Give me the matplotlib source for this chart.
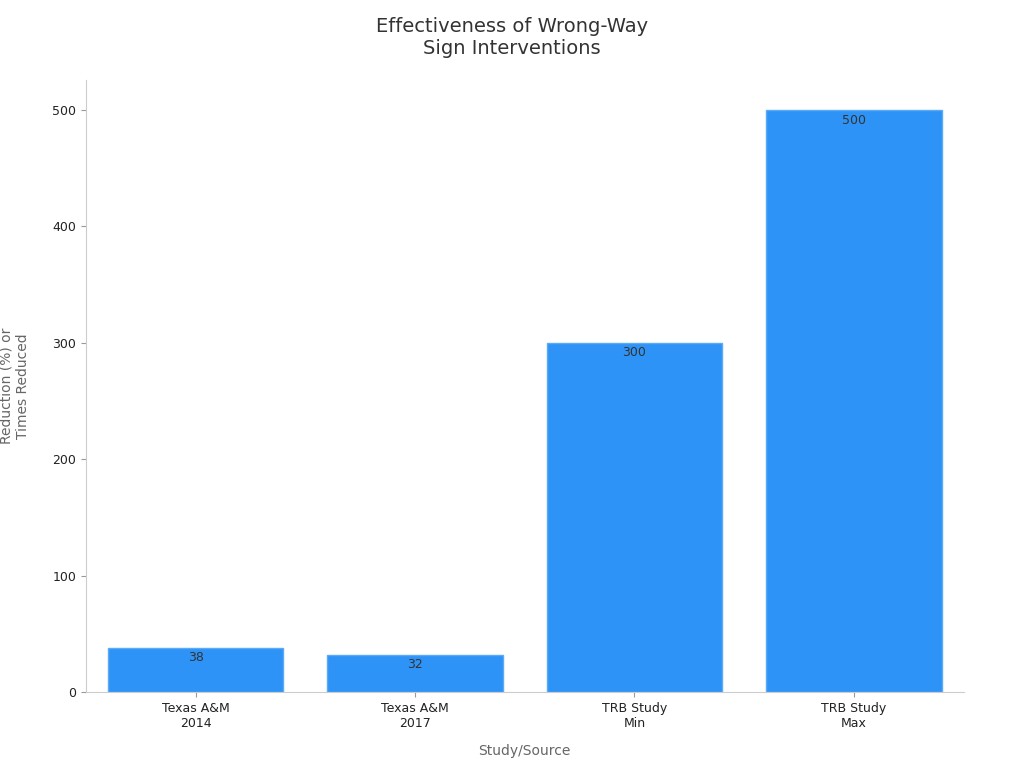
import matplotlib
matplotlib.use("Agg")
import matplotlib.pyplot as plt

categories = ["Texas A&M\n2014", "Texas A&M\n2017", "TRB Study\nMin", "TRB Study\nMax"]
values = [38, 32, 300, 500]
yticks = [0, 100, 200, 300, 400, 500]

fig = plt.figure(figsize=(10.24, 7.68), dpi=100)
ax = fig.add_axes([0.084, 0.099, 0.857, 0.797])
x = range(len(categories))
bars = ax.bar(x, values, width=0.8, color="#2e93f7", edgecolor="#5aaaf8", linewidth=1)
for xi, v in zip(x, values):
    ax.text(xi, v - 3, str(v), ha="center", va="top", fontsize=9, color="#333333")
ax.set_xticks(list(x))
ax.set_xticklabels(categories, fontsize=9, color="#222222")
ax.set_yticks(yticks)
ax.tick_params(axis="y", labelsize=9, colors="#222222")
ax.tick_params(axis="both", color="#999999")
ax.set_xlim(-0.5, 3.5)
ax.set_ylim(0, 526)
for s in ["top", "right"]:
    ax.spines[s].set_visible(False)
for s in ["left", "bottom"]:
    ax.spines[s].set_color("#cccccc")
ax.set_xlabel("Study/Source", fontsize=10, color="#666666", labelpad=10)
ax.set_ylabel("Reduction (%) or\nTimes Reduced", fontsize=10, color="#666666", labelpad=16)
fig.suptitle("Effectiveness of Wrong-Way\nSign Interventions", fontsize=14, color="#333333", y=0.978)
fig.savefig("out.png")
